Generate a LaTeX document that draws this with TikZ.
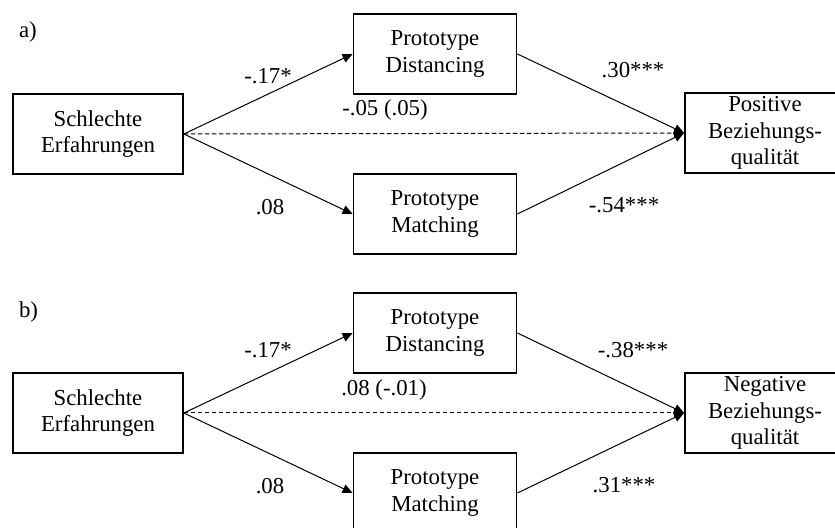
\documentclass[tikz,border=0pt]{standalone}
\usepackage{fontspec}
\setmainfont{Liberation Serif}
\usepackage{tikz}
\usetikzlibrary{positioning, arrows.meta}

\begin{document}
\begin{tikzpicture}[
  x=0.5pt, y=-0.5pt,
  font=\fontsize{11.4}{13.25}\selectfont,
  var/.style={rectangle, draw=black, line width=0.9pt, inner sep=0pt,
              minimum height=40pt, align=center,
              execute at begin node={\rule{0pt}{10.6pt}}},
  path/.style={-{Triangle[length=5pt, width=4.5pt]}, line width=0.5pt},
  direct/.style={path, dash pattern=on 2.2pt off 1.3pt},
  coef/.style={inner sep=0pt}
]
\useasboundingbox (0,0) rectangle (835,528);
% Panel a
\node[anchor=west] (laba) at (12,32) {a)};
\node[var, minimum width=85pt]   (sa) at (98,134)  {Schlechte\\Erfahrungen};
\node[var, minimum width=81.5pt] (da) at (435,54)  {Prototype\\Distancing};
\node[var, minimum width=81.5pt] (ma) at (435,214) {Prototype\\Matching};
\node[var, minimum width=80pt]   (ra) at (765,133) {Positive\\Beziehungs-\\qualität};
\draw[path] (sa.east) -- (da.west);
\draw[path] (sa.east) -- (ma.west);
\draw[path] (da.east) -- (ra.west);
\draw[path] (ma.east) -- (ra.west);
\draw[direct] (sa.east) -- (ra.west);
\node[coef] (a1) at (268,76)  {-.17*};
\node[coef] (a2) at (270,207) {.08};
\node[coef] (a3) at (385,110) {-.05 (.05)};
\node[coef] (a4) at (633,70)  {.30***};
\node[coef] (a5) at (624,205) {-.54***};
% Panel b
\node[anchor=west] (labb) at (12,312) {b)};
\node[var, minimum width=85pt]   (sb) at (98,413)  {Schlechte\\Erfahrungen};
\node[var, minimum width=81.5pt] (db) at (435,333) {Prototype\\Distancing};
\node[var, minimum width=81.5pt] (mb) at (435,493) {Prototype\\Matching};
\node[var, minimum width=80pt]   (rb) at (765,413) {Negative\\Beziehungs-\\qualität};
\draw[path] (sb.east) -- (db.west);
\draw[path] (sb.east) -- (mb.west);
\draw[path] (db.east) -- (rb.west);
\draw[path] (mb.east) -- (rb.west);
\draw[direct] (sb.east) -- (rb.west);
\node[coef] (b1) at (268,350) {-.17*};
\node[coef] (b2) at (270,486) {.08};
\node[coef] (b3) at (384,390) {.08 (-.01)};
\node[coef] (b4) at (633,350) {-.38***};
\node[coef] (b5) at (624,485) {.31***};
\end{tikzpicture}
\end{document}
